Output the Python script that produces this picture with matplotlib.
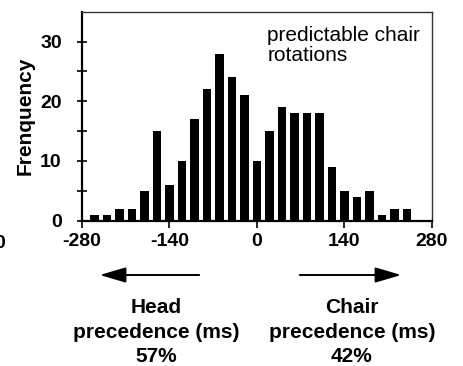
import matplotlib
matplotlib.use("Agg")
import matplotlib.pyplot as plt
from matplotlib.patches import FancyArrowPatch
import numpy as np

# histogram of head/chair onset differences (20 ms bins)
bin_centers = np.arange(-260, 241, 20)
counts = [1, 1, 2, 2, 5, 15, 6, 10, 17, 22, 28, 24, 21, 10,
          15, 19, 18, 18, 18, 9, 5, 4, 5, 1, 2, 2]
xticks = [-280, -140, 0, 140, 280]
yticks = [0, 10, 20, 30]

plt.rcParams['font.family'] = ['Liberation Sans', 'DejaVu Sans']
plt.rcParams['axes.unicode_minus'] = False

fig = plt.figure(figsize=(4.64, 3.66), dpi=100)
ax = fig.add_axes([0.1767, 0.397, 0.7543, 0.571])

ax.bar(bin_centers, counts, width=13.3, color='black')

ax.set_xlim(-280, 280)
ax.set_ylim(0, 35)
ax.set_xticks(xticks)
ax.set_yticks(yticks)
ax.set_yticks(np.arange(5, 35, 10), minor=True)
ax.tick_params(axis='y', which='both', direction='inout', length=7, width=1.2, pad=11)
ax.tick_params(axis='x', direction='out', length=5, width=1.2, pad=4)
ax.tick_params(labelsize=14)
for lab in ax.get_xticklabels() + ax.get_yticklabels():
    lab.set_fontweight('bold')
for s in ['left', 'bottom']:
    ax.spines[s].set_linewidth(1.6)
for s in ['top', 'right']:
    ax.spines[s].set_linewidth(1.0)
    ax.spines[s].set_color('#333333')

ax.set_ylabel('Frenquency', fontsize=15, fontweight='bold', labelpad=4)

ax.text(0.529, 0.93, 'predictable chair\nrotations', transform=ax.transAxes,
        fontsize=15, ha='left', va='top', linespacing=1.05)

# arrows and captions under the axis
for x0, x1 in [(202, 97), (297, 404)]:
    fig.patches.append(FancyArrowPatch(
        (x0/464, 1-275/366), (x1/464, 1-275/366), transform=fig.transFigure,
        arrowstyle='-|>,head_length=16,head_width=4.7', mutation_scale=1,
        color='black', lw=1.4))

fig.text(156/464, 1-332/366, 'Head\nprecedence (ms)\n57%', ha='center',
         va='center', fontsize=15, fontweight='bold', linespacing=1.36)
fig.text(352/464, 1-332/366, 'Chair\nprecedence (ms)\n42%', ha='center',
         va='center', fontsize=15, fontweight='bold', linespacing=1.36)

# leftover digit from the neighbouring panel
fig.text(-0.012, 1-244/366, '0', ha='left', va='center', fontsize=14,
         fontweight='bold')

fig.savefig('out.png', dpi=100)
